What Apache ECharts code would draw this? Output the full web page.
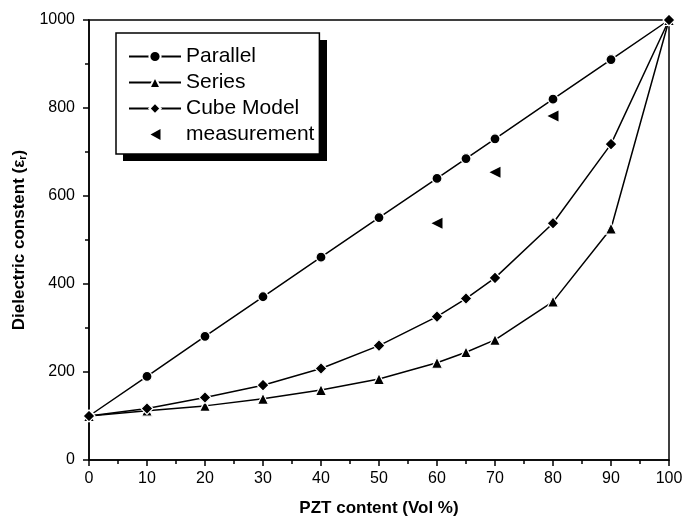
<!DOCTYPE html>
<html>
<head>
<meta charset="utf-8">
<script src="https://cdn.jsdelivr.net/npm/echarts@6/dist/echarts.min.js"></script>
<style>
  html, body { margin: 0; padding: 0; background: #fff; }
  #chart { width: 697px; height: 522px; }
</style>
</head>
<body>
<div id="chart"></div>
<script>
// PZT content (Vol %)
const xParallel = [0, 10, 20, 30, 40, 50, 60, 65, 70, 80, 90, 100];
const parallelVals = [100, 190, 281, 371, 461, 551, 640, 685, 730, 820, 910, 1000];
const seriesVals = [100, 112, 123, 139, 159, 184, 221, 245, 273, 360, 526, 1000];
const cubeVals = [100, 117, 142, 170, 208, 260, 326, 367, 414, 538, 718, 1000];
const xMeasured = [60, 70, 80];
const measuredVals = [538, 654, 782];
const xTicks = [0, 10, 20, 30, 40, 50, 60, 70, 80, 90, 100];
const yTicks = [0, 200, 400, 600, 800, 1000];

function pairs(xs, ys) {
    return xs.map((x, i) => [x, ys[i]]);
}

const chart = echarts.init(document.getElementById('chart'));
const font = 'Liberation Sans, Arial, sans-serif';
const lineStyle = { color: '#000', width: 1.5 };
const markStyle = { color: '#000', borderColor: '#fff', borderWidth: 1.2 };
// left-pointing triangle centred in a 52x14 icon box
const leftTri = 'path://M0,0L0,0.01M52,14L52,13.99M31.5,1.5L31.5,12.5L21.5,7Z';

chart.setOption({
    animation: false,
    graphic: [{
        type: 'rect', z: 1,
        shape: { x: 123, y: 40, width: 204, height: 121 },
        style: { fill: '#000' }
    }],
    grid: {
        left: 89, right: 28, top: 20, bottom: 62,
        show: true, borderColor: '#000', borderWidth: 1.5
    },
    legend: {
        orient: 'vertical',
        left: 116, top: 33, z: 5,
        padding: [13, 5, 9, 12],
        itemWidth: 52, itemHeight: 14, itemGap: 5,
        backgroundColor: '#fff',
        borderColor: '#000', borderWidth: 1.5,
        textStyle: { fontFamily: font, fontSize: 21, color: '#000', lineHeight: 20 },
        data: ['Parallel', 'Series', 'Cube Model', { name: 'measurement', icon: leftTri }]
    },
    xAxis: {
        type: 'value', min: xTicks[0], max: xTicks[xTicks.length - 1], interval: 10,
        name: 'PZT content (Vol %)', nameLocation: 'middle', nameGap: 40,
        nameTextStyle: { fontFamily: font, fontSize: 17, fontWeight: 'bold', color: '#000' },
        axisLine: { lineStyle: { color: '#000', width: 1.5 } },
        axisTick: { length: 6, lineStyle: { color: '#000', width: 1.5 } },
        minorTick: { show: true, splitNumber: 2, length: 4, lineStyle: { color: '#000', width: 1.5 } },
        splitLine: { show: false },
        axisLabel: { fontFamily: font, fontSize: 16, color: '#000', margin: 11 }
    },
    yAxis: {
        type: 'value', min: yTicks[0], max: yTicks[yTicks.length - 1], interval: 200,
        name: 'Dielectric constent (ε{sub|r})', nameLocation: 'middle', nameGap: 51,
        nameTextStyle: {
            fontFamily: font, fontSize: 17, fontWeight: 'bold', color: '#000',
            rich: { sub: { fontFamily: font, fontSize: 11, fontWeight: 'bold', color: '#000', verticalAlign: 'bottom', padding: [8, 0, 0, 0] } }
        },
        axisLine: { show: true, lineStyle: { color: '#000', width: 1.5 } },
        axisTick: { show: true, length: 6, lineStyle: { color: '#000', width: 1.5 } },
        minorTick: { show: true, splitNumber: 2, length: 4, lineStyle: { color: '#000', width: 1.5 } },
        splitLine: { show: false },
        axisLabel: { fontFamily: font, fontSize: 16, color: '#000', margin: 14, formatter: v => String(v) }
    },
    series: [
        {
            name: 'Parallel', type: 'line', data: pairs(xParallel, parallelVals),
            symbol: 'circle', symbolSize: 10, lineStyle: lineStyle, itemStyle: markStyle
        },
        {
            name: 'Series', type: 'line', data: pairs(xParallel, seriesVals),
            symbol: 'triangle', symbolSize: 11, lineStyle: lineStyle, itemStyle: markStyle
        },
        {
            name: 'Cube Model', type: 'line', data: pairs(xParallel, cubeVals),
            symbol: 'diamond', symbolSize: 12, lineStyle: lineStyle, itemStyle: markStyle
        },
        {
            name: 'measurement', type: 'scatter', data: pairs(xMeasured, measuredVals),
            symbol: 'triangle', symbolSize: 11, symbolRotate: 90, symbolKeepAspect: true,
            itemStyle: { color: '#000', opacity: 1 }
        }
    ]
});
</script>
</body>
</html>
